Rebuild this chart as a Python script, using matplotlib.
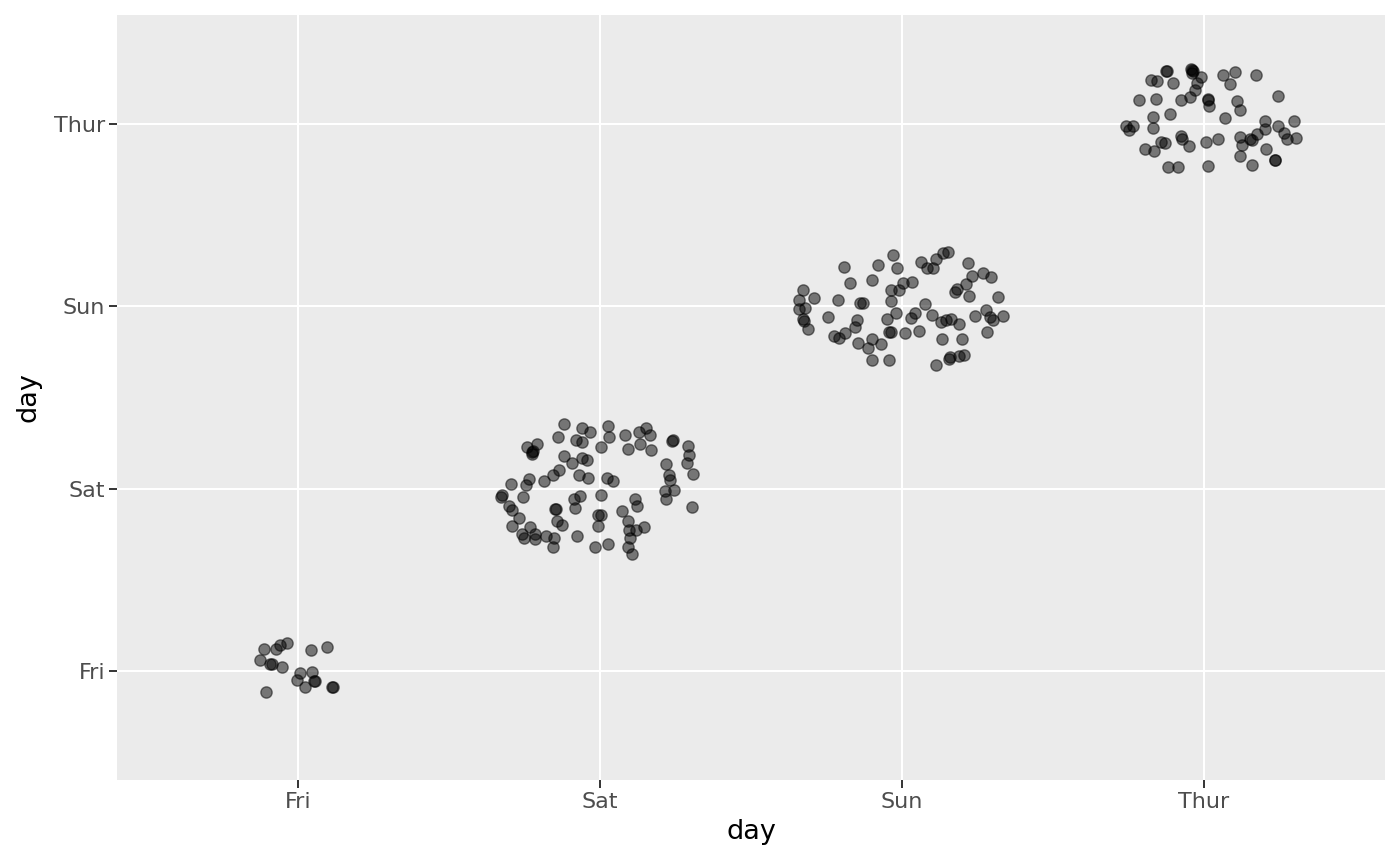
import matplotlib
matplotlib.use("Agg")
import matplotlib.pyplot as plt
import numpy as np

days = ["Fri", "Sat", "Sun", "Thur"]

# jitter offsets (data units), per day
fri_dx = [-0.112, -0.075, -0.059, -0.036, 0.043, 0.096, -0.125, -0.092, -0.088, -0.053,
          0.007, 0.046, -0.003, 0.021, 0.052, 0.056, 0.112, 0.115, -0.108]
fri_dy = [0.121, 0.121, 0.143, 0.150, 0.111, 0.128, 0.059, 0.038, 0.036, 0.018,
          -0.013, -0.009, -0.053, -0.088, -0.059, -0.057, -0.092, -0.090, -0.119]

sat_dx = [-0.120, -0.060, -0.032, -0.140, -0.079, -0.061, -0.242, -0.209, -0.225, -0.226,
          -0.120, -0.093, -0.061, -0.043, -0.135, -0.156, -0.234, -0.186, -0.069, -0.040,
          -0.294, -0.245, -0.328, -0.325, -0.255, -0.302, -0.291, -0.087, -0.067, -0.082,
          -0.149, -0.146, -0.267, -0.142, -0.126, -0.292, -0.231, -0.258, -0.253, -0.216,
          -0.214, -0.179, -0.151, -0.157, -0.077, -0.017, 0.027, 0.030, 0.084, 0.130,
          0.152, 0.167, 0.133, 0.092, 0.168, 0.004, 0.238, 0.240, 0.292, 0.296,
          0.289, 0.307, 0.022, 0.043, 0.219, 0.227, 0.231, 0.215, 0.244, 0.218,
          0.304, 0.003, 0.117, 0.122, 0.071, -0.006, 0.003, -0.007, 0.092, 0.097,
          0.119, 0.145, 0.099, 0.094, 0.105, 0.026, -0.223]
sat_dy = [0.357, 0.331, 0.309, 0.281, 0.269, 0.256, 0.227, 0.245, 0.201, 0.187,
          0.181, 0.141, 0.166, 0.155, 0.104, 0.077, 0.053, 0.044, 0.073, 0.060,
          0.024, 0.018, -0.044, -0.038, -0.048, -0.097, -0.119, -0.057, -0.042, -0.108,
          -0.110, -0.112, -0.163, -0.176, -0.199, -0.207, -0.210, -0.247, -0.270, -0.252,
          -0.276, -0.262, -0.273, -0.322, -0.263, -0.321, 0.342, 0.281, 0.292, 0.309,
          0.331, 0.296, 0.245, 0.218, 0.214, 0.227, 0.263, 0.266, 0.232, 0.183,
          0.141, 0.081, 0.059, 0.044, 0.132, 0.077, 0.046, -0.011, -0.009, -0.057,
          -0.100, -0.037, -0.060, -0.097, -0.122, -0.148, -0.148, -0.207, -0.176, -0.225,
          -0.229, -0.210, -0.274, -0.320, -0.357, -0.302, 0.204]

sun_dx = [-0.031, -0.193, -0.079, -0.018, -0.173, -0.098, 0.002, -0.329, -0.340, -0.290,
          -0.213, -0.342, -0.321, -0.139, -0.128, -0.035, -0.011, -0.036, -0.020, -0.329,
          -0.325, -0.310, -0.245, -0.150, -0.157, -0.050, -0.042, -0.035, -0.226, -0.210,
          -0.188, -0.147, -0.114, -0.099, -0.071, -0.099, -0.044, 0.064, 0.083, 0.102,
          0.113, 0.137, 0.152, 0.218, 0.232, 0.267, 0.295, 0.212, 0.181, 0.175,
          0.223, 0.317, 0.033, 0.077, 0.043, 0.030, 0.099, 0.129, 0.146, 0.162,
          0.188, 0.243, 0.278, 0.291, 0.300, 0.333, 0.010, 0.055, 0.131, 0.198,
          0.282, 0.155, 0.159, 0.188, 0.204, 0.113]
sun_dy = [0.284, 0.218, 0.225, 0.211, 0.130, 0.143, 0.127, 0.088, 0.035, 0.044,
          0.035, -0.014, -0.007, 0.017, 0.017, 0.090, 0.090, 0.031, -0.035, -0.069,
          -0.078, -0.122, -0.057, -0.075, -0.111, -0.067, -0.139, -0.139, -0.162, -0.175,
          -0.144, -0.202, -0.230, -0.180, -0.205, -0.294, -0.296, 0.245, 0.209, 0.209,
          0.262, 0.295, 0.300, 0.238, 0.167, 0.185, 0.161, 0.121, 0.095, 0.079,
          0.059, 0.053, 0.132, 0.013, -0.035, -0.065, -0.046, -0.084, -0.075, -0.069,
          -0.098, -0.051, -0.021, -0.057, -0.075, -0.053, -0.148, -0.133, -0.177, -0.180,
          -0.139, -0.287, -0.279, -0.272, -0.268, -0.323]

thu_dx = [-0.124, -0.123, -0.042, -0.039, -0.008, -0.023, -0.028, -0.174, -0.155, -0.103,
          -0.216, -0.158, -0.075, -0.046, 0.013, 0.015, 0.016, -0.168, -0.111, -0.257,
          -0.249, -0.236, -0.170, -0.142, -0.130, -0.075, -0.072, -0.048, -0.196, -0.166,
          0.007, -0.120, -0.085, 0.013, 0.064, 0.104, 0.171, 0.085, 0.110, 0.121,
          0.244, 0.069, 0.204, 0.204, 0.176, 0.244, 0.297, 0.267, 0.275, 0.305,
          0.121, 0.152, 0.160, 0.126, 0.046, 0.206, 0.118, 0.234, 0.236, 0.160,
          -0.040, -0.035]
thu_dy = [0.290, 0.294, 0.302, 0.280, 0.257, 0.225, 0.189, 0.242, 0.238, 0.225,
          0.131, 0.138, 0.132, 0.149, 0.134, 0.138, 0.101, 0.039, 0.055, -0.012,
          -0.031, -0.009, -0.023, -0.098, -0.102, -0.067, -0.082, -0.120, -0.138, -0.149,
          -0.100, -0.234, -0.234, -0.231, 0.271, 0.286, 0.271, 0.220, 0.128, 0.079,
          0.156, 0.037, 0.019, -0.025, -0.054, -0.012, 0.019, -0.049, -0.082, -0.076,
          -0.071, -0.082, -0.086, -0.116, -0.080, -0.137, -0.173, -0.199, -0.196, -0.224,
          0.297, 0.291]

offsets = {"Fri": (fri_dx, fri_dy), "Sat": (sat_dx, sat_dy),
           "Sun": (sun_dx, sun_dy), "Thur": (thu_dx, thu_dy)}

fig = plt.figure(figsize=(14, 8.65), dpi=100)
ax = fig.add_axes([0.0836, 0.0983, 0.9057, 0.8844])
ax.set_facecolor("#EBEBEB")

for i, d in enumerate(days, start=1):
    dx, dy = offsets[d]
    xs = i + np.asarray(dx)
    ys = i + np.asarray(dy)
    ax.scatter(xs, ys, s=66, c="black", alpha=0.5, edgecolors="black",
               linewidths=1.0, zorder=3)

pos = np.arange(1, len(days) + 1)
ax.set_xticks(pos)
ax.set_xticklabels(days)
ax.set_yticks(pos)
ax.set_yticklabels(days)
ax.set_xlim(0.4, 4.6)
ax.set_ylim(0.4, 4.6)
ax.grid(True, color="white", linewidth=1.5, zorder=0)
ax.set_axisbelow(True)
for sp in ax.spines.values():
    sp.set_visible(False)
ax.tick_params(axis="both", length=5.5, width=1.4, color="#333333",
               labelcolor="#4D4D4D", labelsize=16, pad=3)
ax.set_xlabel("day", fontsize=19.5, color="black", labelpad=5)
ax.set_ylabel("day", fontsize=19.5, color="black", labelpad=9)

fig.savefig("out.png", dpi=100, facecolor="white")
